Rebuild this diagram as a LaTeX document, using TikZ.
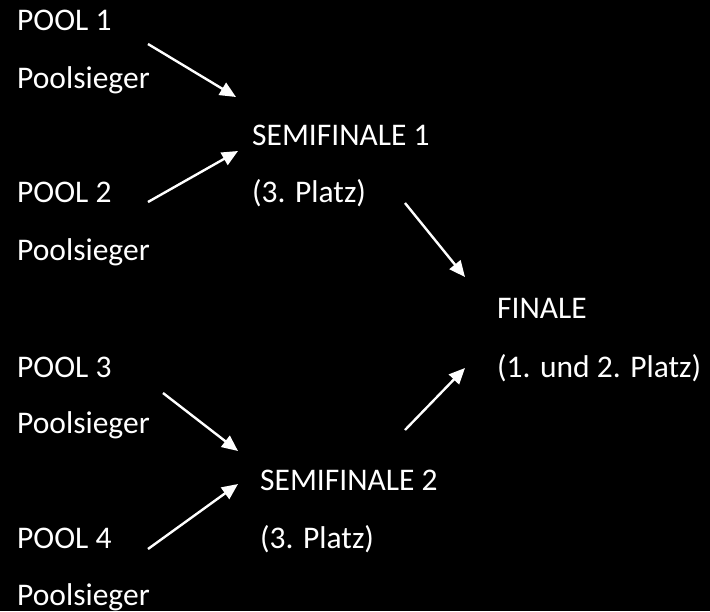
\documentclass[tikz,border=0pt]{standalone}
\usepackage{fontspec}
\setmainfont{Carlito}
\usetikzlibrary{arrows.meta}
\begin{document}
\begin{tikzpicture}[x=1pt,y=-1pt,
  lbl/.style={anchor=base west,inner sep=0pt,text=white,font=\fontsize{31.5}{38}\selectfont},
  arr/.style={draw=white,line width=2.4pt,-{Triangle[length=16pt,width=14pt]}}]
\fill[black] (0,0) rectangle (710,611);
\useasboundingbox (0,0) rectangle (710,611);
% texts
\node[lbl] (p1) at (17,30) {POOL 1};
\node[lbl] (s1) at (17,88) {Poolsieger};
\node[lbl] (sf1) at (252,145) {SEMIFINALE 1};
\node[lbl] (p2) at (17,202) {POOL 2};
\node[lbl] (pl1) at (252,202) {(3. Platz)};
\node[lbl] (s2) at (17,260) {Poolsieger};
\node[lbl] (fin) at (497,318) {FINALE};
\node[lbl] (p3) at (17,377) {POOL 3};
\node[lbl] (fpl) at (497,377) {(1. und 2. Platz)};
\node[lbl] (s3) at (17,433) {Poolsieger};
\node[lbl] (sf2) at (260,490) {SEMIFINALE 2};
\node[lbl] (p4) at (17,548) {POOL 4};
\node[lbl] (pl2) at (260,548) {(3. Platz)};
\node[lbl] (s4) at (17,605) {Poolsieger};
% arrow endpoints
\coordinate (a1s) at (148,44);  \coordinate (a1e) at (236,97);
\coordinate (a2s) at (148,202); \coordinate (a2e) at (238,151);
\coordinate (a3s) at (405,203); \coordinate (a3e) at (465,277);
\coordinate (a4s) at (163,393); \coordinate (a4e) at (238,451);
\coordinate (a5s) at (148,549); \coordinate (a5e) at (238,484);
\coordinate (a6s) at (405,430); \coordinate (a6e) at (465,368);
\draw[arr] (a1s) -- (a1e);
\draw[arr] (a2s) -- (a2e);
\draw[arr] (a3s) -- (a3e);
\draw[arr] (a4s) -- (a4e);
\draw[arr] (a5s) -- (a5e);
\draw[arr] (a6s) -- (a6e);
\end{tikzpicture}
\end{document}
